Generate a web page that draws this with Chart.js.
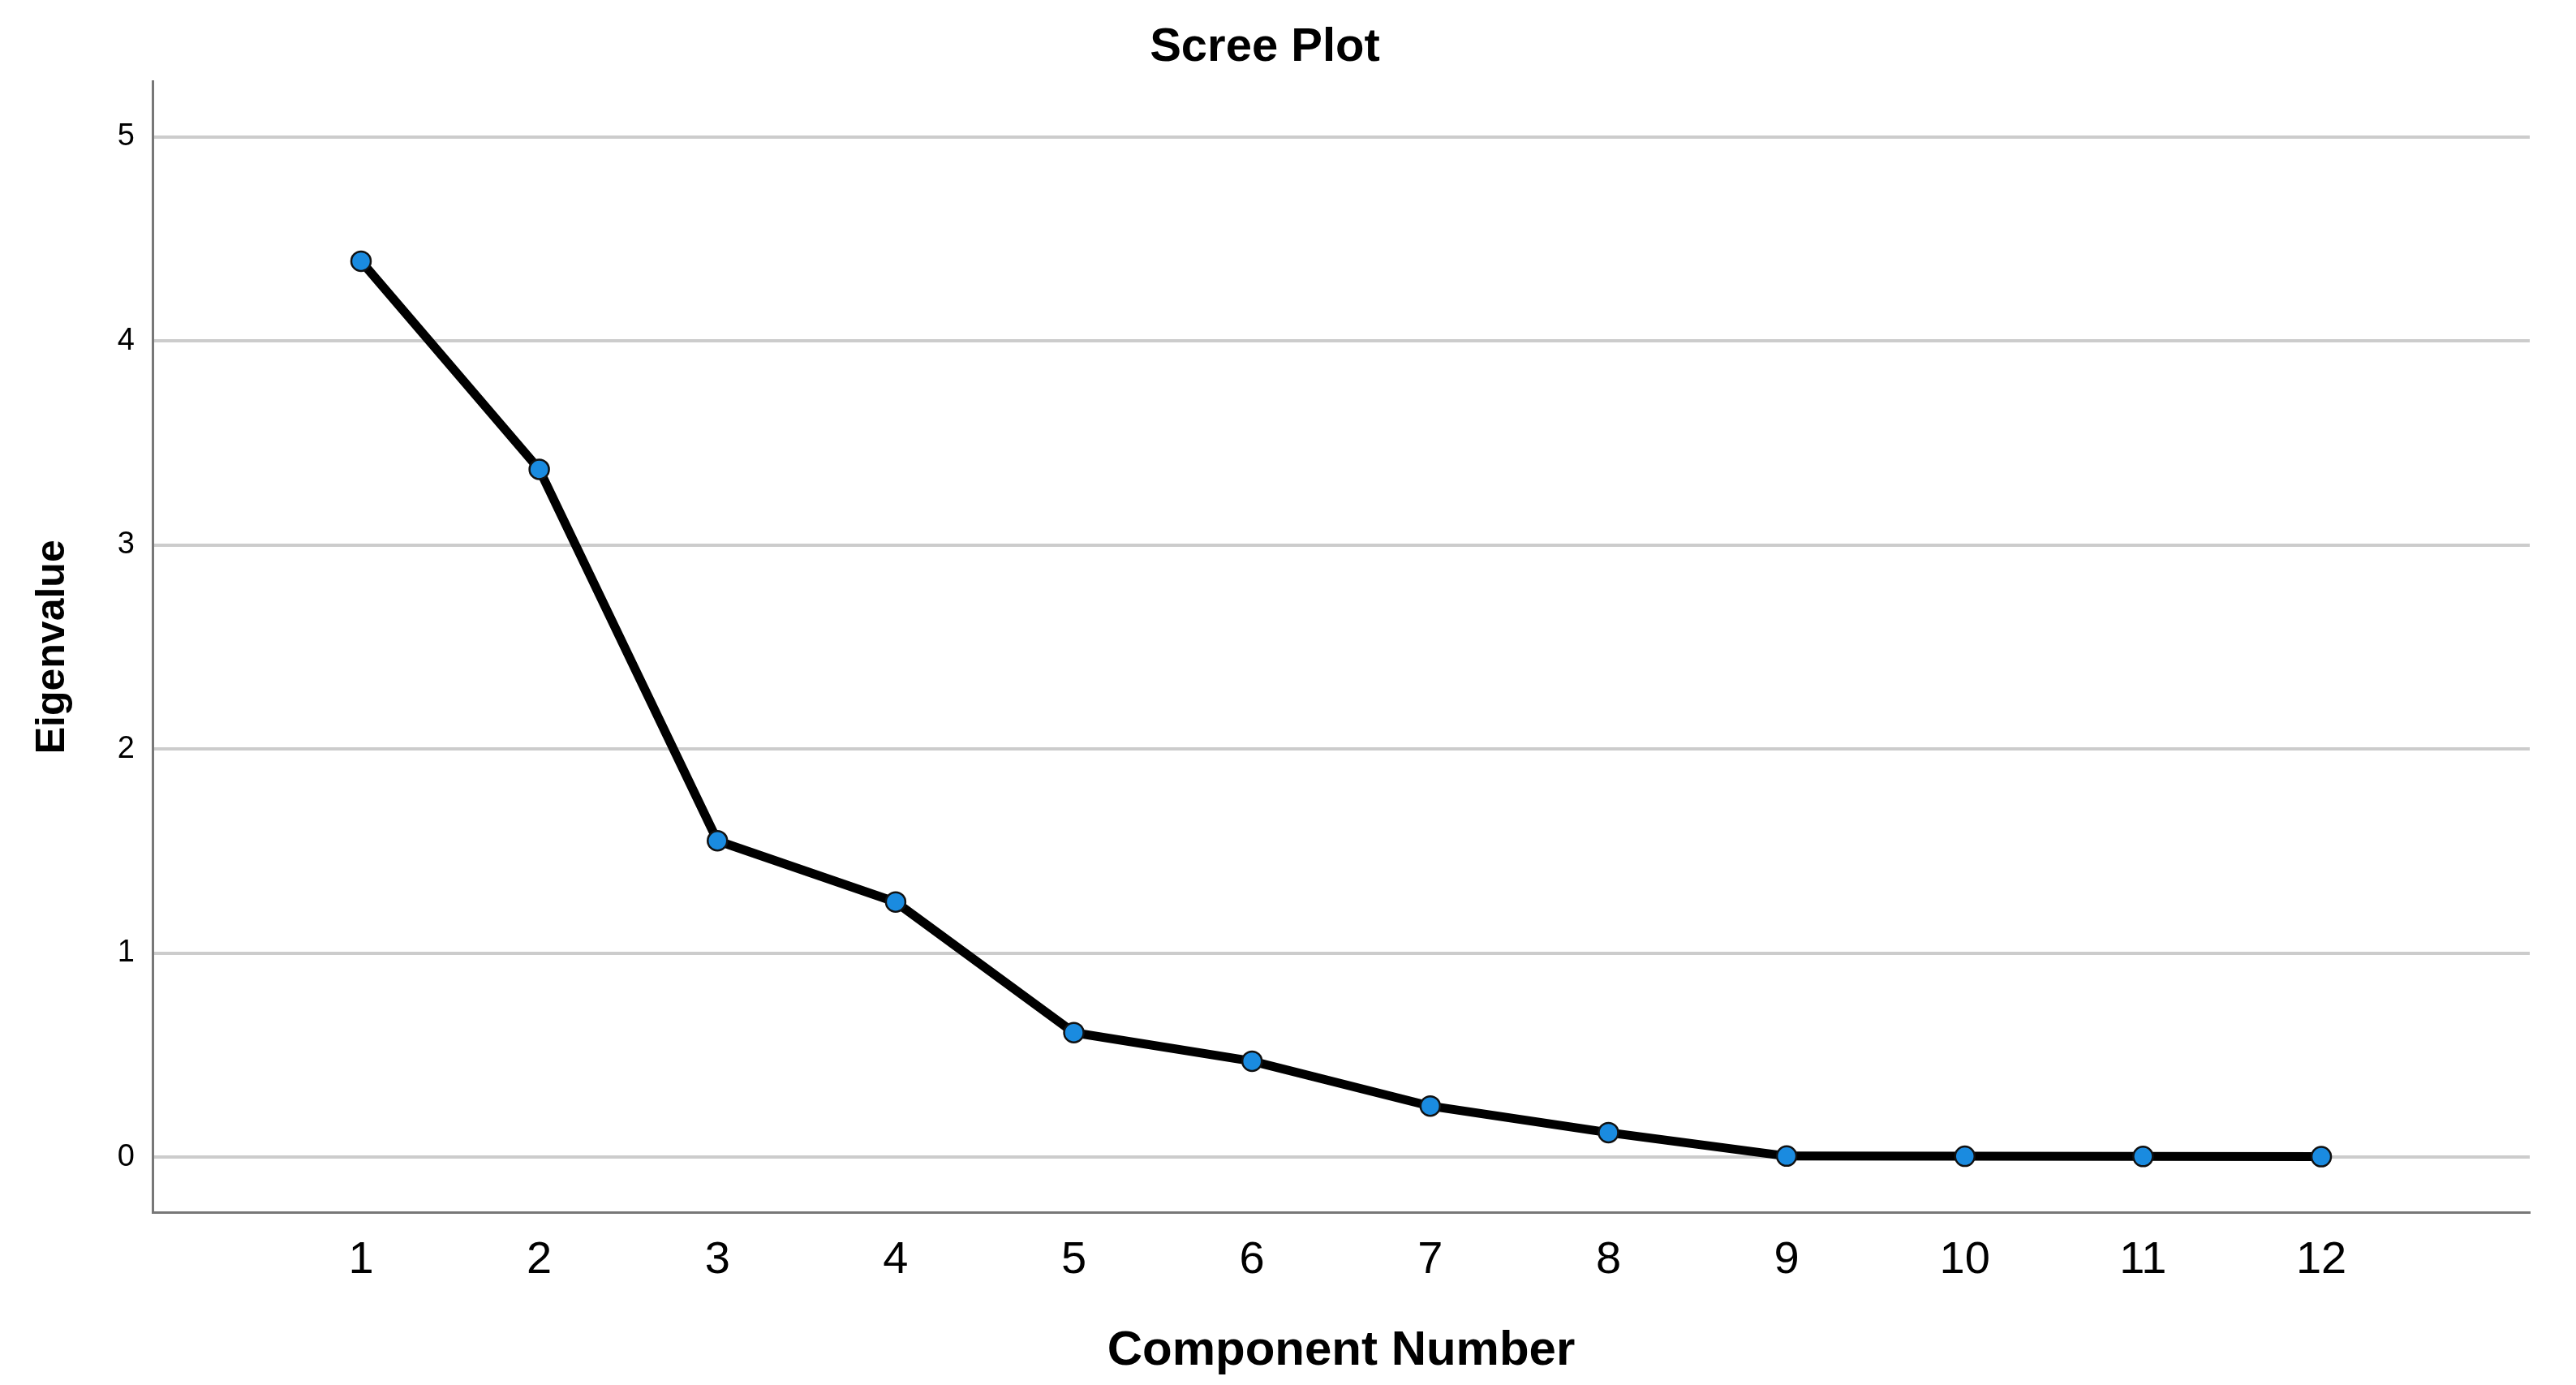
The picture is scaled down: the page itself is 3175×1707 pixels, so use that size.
<!DOCTYPE html>
<html>
<head>
<meta charset="utf-8">
<script src="https://cdn.jsdelivr.net/npm/chart.js@4.4.1/dist/chart.umd.min.js"></script>
<style>
  html, body { margin: 0; padding: 0; background: #fff; }
  #wrap { width: 3175px; height: 1707px; }
</style>
</head>
<body>
<div id="wrap"><canvas id="scree" width="3175" height="1707"></canvas></div>
<script>
const components = [1, 2, 3, 4, 5, 6, 7, 8, 9, 10, 11, 12];
const eigenvalues = [4.39, 3.37, 1.55, 1.25, 0.61, 0.47, 0.25, 0.12, 0.005, 0.004, 0.003, 0.002];
const yTicks = [0, 1, 2, 3, 4, 5];

const fontFamily = '"Liberation Sans", Arial, sans-serif';

const points = components.map((c, i) => ({ x: c, y: eigenvalues[i] }));

new Chart(document.getElementById('scree'), {
  type: 'line',
  data: {
    datasets: [{
      data: points,
      borderColor: '#000',
      borderWidth: 11,
      tension: 0,
      pointRadius: 12,
      pointBackgroundColor: '#1a8be0',
      pointBorderColor: '#111',
      pointBorderWidth: 2.5,
    }],
  },
  options: {
    responsive: false,
    devicePixelRatio: 1,
    animation: false,
    layout: { padding: { left: 0, right: 57, top: 0, bottom: 0 } },
    plugins: {
      legend: { display: false },
      tooltip: { enabled: false },
      title: {
        display: true,
        text: 'Scree Plot',
        color: '#000',
        font: { family: fontFamily, size: 58, weight: 'bold' },
        padding: { top: 24, bottom: 7 },
      },
    },
    scales: {
      x: {
        type: 'linear',
        min: -0.17,
        max: 13.17,
        afterBuildTicks: (s) => { s.ticks = components.map(v => ({ value: v })); },
        afterFit: (s) => { s.height = 213; },
        grid: { display: false, drawTicks: false },
        border: { display: true, color: '#777', width: 3 },
        ticks: {
          color: '#000',
          padding: 26,
          font: { family: fontFamily, size: 56 },
          maxRotation: 0,
          autoSkip: false,
        },
        title: {
          display: true,
          text: 'Component Number',
          color: '#000',
          font: { family: fontFamily, size: 60, weight: 'bold' },
          padding: { top: 0, bottom: 6 },
        },
      },
      y: {
        min: -0.27,
        max: 5.27,
        afterBuildTicks: (s) => { s.ticks = yTicks.map(v => ({ value: v })); },
        afterFit: (s) => { s.width = 188; },
        grid: { color: '#cccccc', lineWidth: 4, drawTicks: false },
        border: { display: true, color: '#777', width: 3 },
        ticks: {
          color: '#000',
          padding: 22,
          font: { family: fontFamily, size: 38 },
        },
        title: {
          display: true,
          text: 'Eigenvalue',
          color: '#000',
          font: { family: fontFamily, size: 50, weight: 'bold' },
          padding: { top: 35, bottom: 0 },
        },
      },
    },
  },
});
</script>
</body>
</html>
